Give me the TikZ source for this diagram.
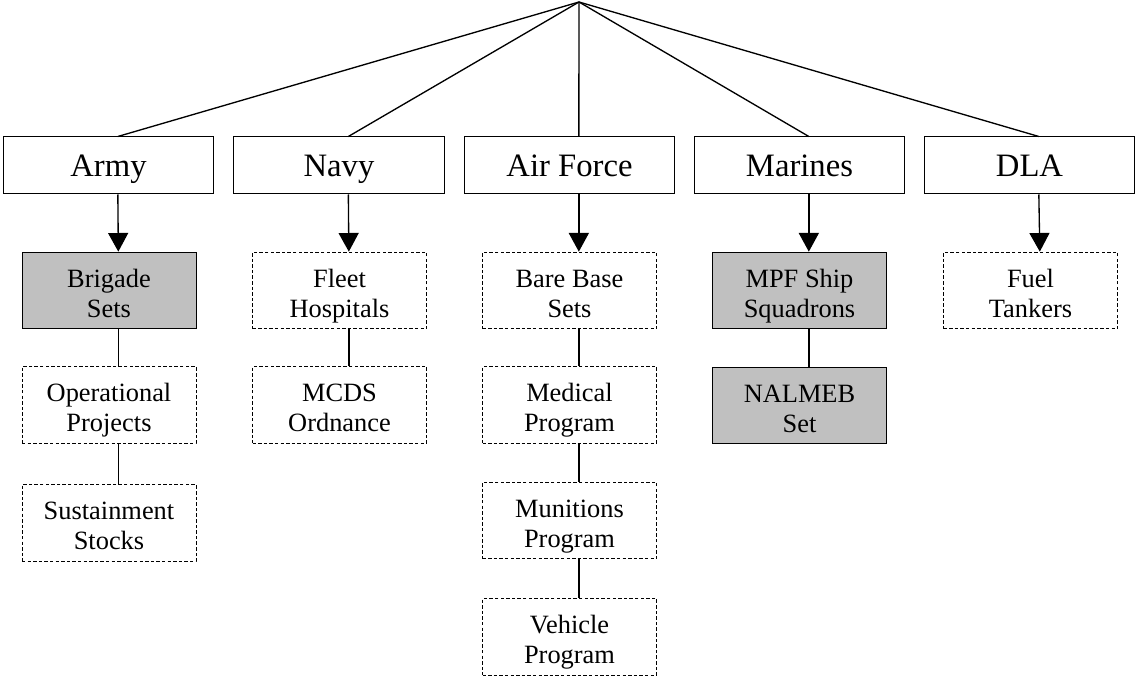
\documentclass[tikz,border=0pt]{standalone}
\usepackage{fontspec}
\setmainfont{Liberation Serif}
\definecolor{setgray}{HTML}{C0C0C0}
\usetikzlibrary{arrows.meta, positioning}

\begin{document}
\begin{tikzpicture}[
						x=0.75pt, y=-0.75pt,
						branch/.style={draw, fill=white, line width=0.75pt, minimum width=158pt, minimum height=42.75pt, inner sep=0pt, text height=20pt, text depth=2.75pt, font=\fontsize{24.5}{27}\selectfont},
						setbox/.style={draw, line width=0.75pt, minimum width=130.5pt, minimum height=57.5pt, inner sep=0pt, align=center, text height=40pt, text depth=0pt, font=\fontsize{19.8}{22.5}\selectfont},
						prepo/.style={setbox, fill=setgray},
						planned/.style={setbox, dash pattern=on 2.6pt off 1.6pt},
						arrow/.style={-{Triangle[width=15pt, length=14pt]}, line width=1pt},
						link/.style={line width=1pt}
					]
					\useasboundingbox (0,0) rectangle (1136,677);
					\coordinate (apex) at (579,2);

					\node[branch] (army) at (108.5,165.5) {Army};
					\node[branch] (navy) at (339,165.5) {Navy};
					\node[branch] (airforce) at (569.5,165.5) {Air Force};
					\node[branch] (marines) at (799.5,165.5) {Marines};
					\node[branch] (dla) at (1029.5,165.5) {DLA};

					\draw[link] (apex) -- ([xshift=7pt]army.north);
					\draw[link] (apex) -- ([xshift=7pt]navy.north);
					\draw[link] (apex) -- ([xshift=7pt]airforce.north);
					\draw[link] (apex) -- ([xshift=7pt]marines.north);
					\draw[link] (apex) -- ([xshift=7pt]dla.north);

					% army
					\node[prepo] (brigade) at (109,290.5) {Brigade\\Sets};
					\node[planned] (oppro) at (109,405) {Operational\\Projects};
					\node[planned] (sustain) at (109,523) {Sustainment\\Stocks};
					% navy
					\node[planned] (fleet) at (339.5,290.5) {Fleet\\Hospitals};
					\node[planned] (mcds) at (339.5,405) {MCDS\\Ordnance};
					% air force
					\node[planned] (barebase) at (569.5,290.5) {Bare Base\\Sets};
					\node[planned] (medical) at (569.5,405) {Medical\\Program};
					\node[planned] (munitions) at (569.5,520.5) {Munitions\\Program};
					\node[planned] (vehicle) at (569.5,637) {Vehicle\\Program};
					% marines
					\node[prepo] (mpf) at (799.5,290.5) {MPF Ship\\Squadrons};
					\node[prepo] (nalmeb) at (799.5,405.5) {NALMEB\\Set};
					% dla
					\node[planned] (fuel) at (1030.5,290.5) {Fuel\\Tankers};

					\draw[arrow] ([xshift=7pt]army.south) -- ([xshift=7pt]brigade.north);
					\draw[arrow] ([xshift=7pt]navy.south) -- ([xshift=7pt]fleet.north);
					\draw[arrow] ([xshift=7pt]airforce.south) -- ([xshift=7pt]barebase.north);
					\draw[arrow] ([xshift=7pt]marines.south) -- ([xshift=7pt]mpf.north);
					\draw[arrow] ([xshift=7pt]dla.south) -- ([xshift=7pt]fuel.north);

					\draw[link] ([xshift=7pt]brigade.south) -- ([xshift=7pt]oppro.north);
					\draw[link] ([xshift=7pt]oppro.south) -- ([xshift=7pt]sustain.north);
					\draw[link] ([xshift=7pt]fleet.south) -- ([xshift=7pt]mcds.north);
					\draw[link] ([xshift=7pt]barebase.south) -- ([xshift=7pt]medical.north);
					\draw[link] ([xshift=7pt]medical.south) -- ([xshift=7pt]munitions.north);
					\draw[link] ([xshift=7pt]munitions.south) -- ([xshift=7pt]vehicle.north);
					\draw[link] ([xshift=7pt]mpf.south) -- ([xshift=7pt]nalmeb.north);
				\end{tikzpicture}
\end{document}
